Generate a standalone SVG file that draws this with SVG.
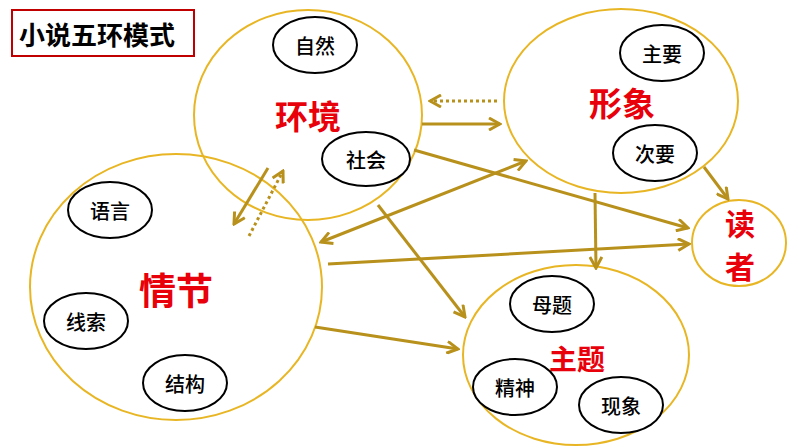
<svg xmlns="http://www.w3.org/2000/svg" width="794" height="447" viewBox="0 0 794 447">
<style>
.big{fill:none;stroke:#E8B624;stroke-width:2}
.small{fill:#fff;stroke:#000;stroke-width:2}
.t{font-family:"Noto Sans CJK SC","Noto Sans",sans-serif;fill:#000;font-size:20px;text-anchor:middle;dominant-baseline:central;font-weight:500}
.r{font-family:"Noto Sans CJK SC","Noto Sans",sans-serif;fill:#E8000B;text-anchor:middle;dominant-baseline:central;font-weight:bold}
.c{stroke:#B8911C;stroke-width:3;fill:none}
.d{stroke:#B8911C;stroke-width:3;fill:none;stroke-dasharray:3 3}
</style>
<defs>
<marker id="ah" viewBox="0 0 14 14" refX="12" refY="7" markerWidth="14" markerHeight="14" markerUnits="userSpaceOnUse" orient="auto-start-reverse">
<path d="M1,1 L12,7 L1,13" fill="none" stroke="#B8911C" stroke-width="3"/>
</marker>
</defs>
<rect x="0" y="0" width="794" height="447" fill="#fff"/>
<g id="title">
<rect x="12" y="10" width="182" height="46" fill="#fff" stroke="#C00000" stroke-width="2"/>
<text x="97" y="33" class="t" style="font-size:26px;font-weight:bold">小说五环模式</text>
</g>
<g id="huanjing">
<ellipse cx="308" cy="115" rx="114" ry="105" class="big"/>
<text x="308" y="115" class="r" style="font-size:33px">环境</text>
</g>
<g id="xingxiang">
<ellipse cx="621" cy="101" rx="117" ry="92" class="big"/>
<text x="622" y="102" class="r" style="font-size:33px">形象</text>
</g>
<g id="qingjie">
<ellipse cx="176" cy="287" rx="146" ry="133" class="big"/>
<text x="176" y="289" class="r" style="font-size:37px">情节</text>
</g>
<g id="duzhe">
<ellipse cx="739" cy="243" rx="47" ry="43" class="big"/>
<text x="740" y="222" class="r" style="font-size:30px">读</text>
<text x="740" y="265" class="r" style="font-size:30px">者</text>
</g>
<g id="zhuti">
<ellipse cx="576" cy="355" rx="113" ry="90" class="big"/>
<text x="577" y="358" class="r" style="font-size:28px">主题</text>
</g>
<g id="connectors">
<line x1="497" y1="101" x2="430" y2="101" class="d" marker-end="url(#ah)"/>
<line x1="422" y1="124" x2="500" y2="124" class="c" marker-end="url(#ah)"/>
<line x1="414" y1="150" x2="688" y2="228" class="c" marker-end="url(#ah)"/>
<line x1="321" y1="242" x2="526" y2="161" class="c" marker-start="url(#ah)" marker-end="url(#ah)"/>
<line x1="328" y1="264" x2="689" y2="244" class="c" marker-end="url(#ah)"/>
<line x1="378" y1="205" x2="465" y2="317" class="c" marker-end="url(#ah)"/>
<line x1="595" y1="193" x2="596" y2="268" class="c" marker-end="url(#ah)"/>
<line x1="704" y1="167" x2="728" y2="199" class="c" marker-end="url(#ah)"/>
<line x1="315" y1="327" x2="458" y2="349" class="c" marker-end="url(#ah)"/>
<line x1="268" y1="168" x2="234" y2="224" class="c" marker-end="url(#ah)"/>
<line x1="249" y1="236" x2="283" y2="171" class="d" marker-end="url(#ah)"/>
</g>
<g id="ziran"><ellipse cx="315" cy="45" rx="42" ry="28" class="small"/><text x="315" y="45" class="t">自然</text></g>
<g id="shehui"><ellipse cx="366" cy="159" rx="44" ry="27" class="small"/><text x="366" y="159" class="t">社会</text></g>
<g id="zhuyao"><ellipse cx="662" cy="53" rx="42" ry="28" class="small"/><text x="662" y="53" class="t">主要</text></g>
<g id="ciyao"><ellipse cx="655" cy="153" rx="42" ry="28" class="small"/><text x="655" y="153" class="t">次要</text></g>
<g id="yuyan"><ellipse cx="110" cy="210" rx="42" ry="28" class="small"/><text x="110" y="210" class="t">语言</text></g>
<g id="xiansuo"><ellipse cx="86" cy="321" rx="42" ry="28" class="small"/><text x="86" y="321" class="t">线索</text></g>
<g id="jiegou"><ellipse cx="185" cy="383" rx="42" ry="28" class="small"/><text x="185" y="383" class="t">结构</text></g>
<g id="muti"><ellipse cx="552" cy="304" rx="42" ry="28" class="small"/><text x="552" y="304" class="t">母题</text></g>
<g id="jingshen"><ellipse cx="515" cy="387" rx="42" ry="28" class="small"/><text x="515" y="387" class="t">精神</text></g>
<g id="xianxiang"><ellipse cx="621" cy="405" rx="42" ry="28" class="small"/><text x="621" y="405" class="t">现象</text></g>
</svg>
